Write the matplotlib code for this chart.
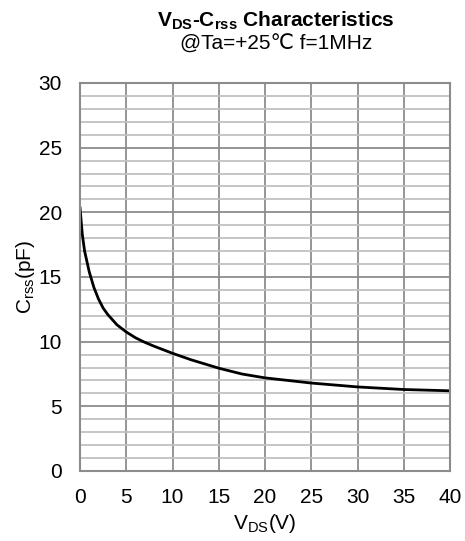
import matplotlib
matplotlib.use("Agg")
import matplotlib.pyplot as plt
from matplotlib.ticker import MultipleLocator

plt.rcParams['font.family'] = ['Liberation Sans', 'DejaVu Sans']
plt.rcParams['mathtext.fontset'] = 'custom'
plt.rcParams['mathtext.rm'] = 'Liberation Sans'
plt.rcParams['mathtext.bf'] = 'Liberation Sans:bold'

# VDS-Crss curve
vds = [0, 0.25, 0.5, 1, 1.5, 2, 2.5, 3, 4, 5, 6, 7, 8, 10, 12, 15, 17.5, 20, 25, 30, 35, 40]
crss = [20.4, 18.3, 17.0, 15.4, 14.2, 13.3, 12.6, 12.1, 11.3, 10.75, 10.3, 9.95, 9.65,
        9.1, 8.6, 7.95, 7.5, 7.2, 6.8, 6.5, 6.3, 6.2]

xticks = [0, 5, 10, 15, 20, 25, 30, 35, 40]
yticks = [0, 5, 10, 15, 20, 25, 30]

fig = plt.figure(figsize=(4.65, 5.41), dpi=100)
ax = fig.add_axes([0.172, 0.1294, 0.796, 0.7172])

ax.set_xlim(0, 40)
ax.set_ylim(0, 30)
ax.set_xticks(xticks)
ax.set_yticks(yticks)
ax.yaxis.set_minor_locator(MultipleLocator(1))

ax.grid(which='minor', axis='y', color='#c0c0c0', linewidth=1.3)
ax.grid(which='major', axis='both', color='#8c8c8c', linewidth=1.3)
ax.set_axisbelow(True)
for s in ax.spines.values():
    s.set_color('#8c8c8c')
    s.set_linewidth(1.5)

ax.tick_params(which='both', length=0, labelsize=15, colors='black')
ax.tick_params(axis='x', pad=12)
ax.tick_params(axis='y', pad=13)

ax.plot(vds, crss, color='black', linewidth=2.0, solid_capstyle='round')

ax.set_xlabel(r'V$_\mathregular{DS}$(V)', fontsize=15, labelpad=4)
ax.set_ylabel(r'C$_\mathregular{rss}$(pF)', fontsize=15, labelpad=1)

fig.text(0.594, 0.961, r'V$_\mathbf{DS}$-C$_\mathbf{rss}$ Characteristics',
         ha='center', va='center', fontsize=15, fontweight='bold')
fig.text(0.594, 0.918, '@Ta=+25℃ f=1MHz', ha='center', va='center', fontsize=15)

fig.savefig('out.png', dpi=100)
